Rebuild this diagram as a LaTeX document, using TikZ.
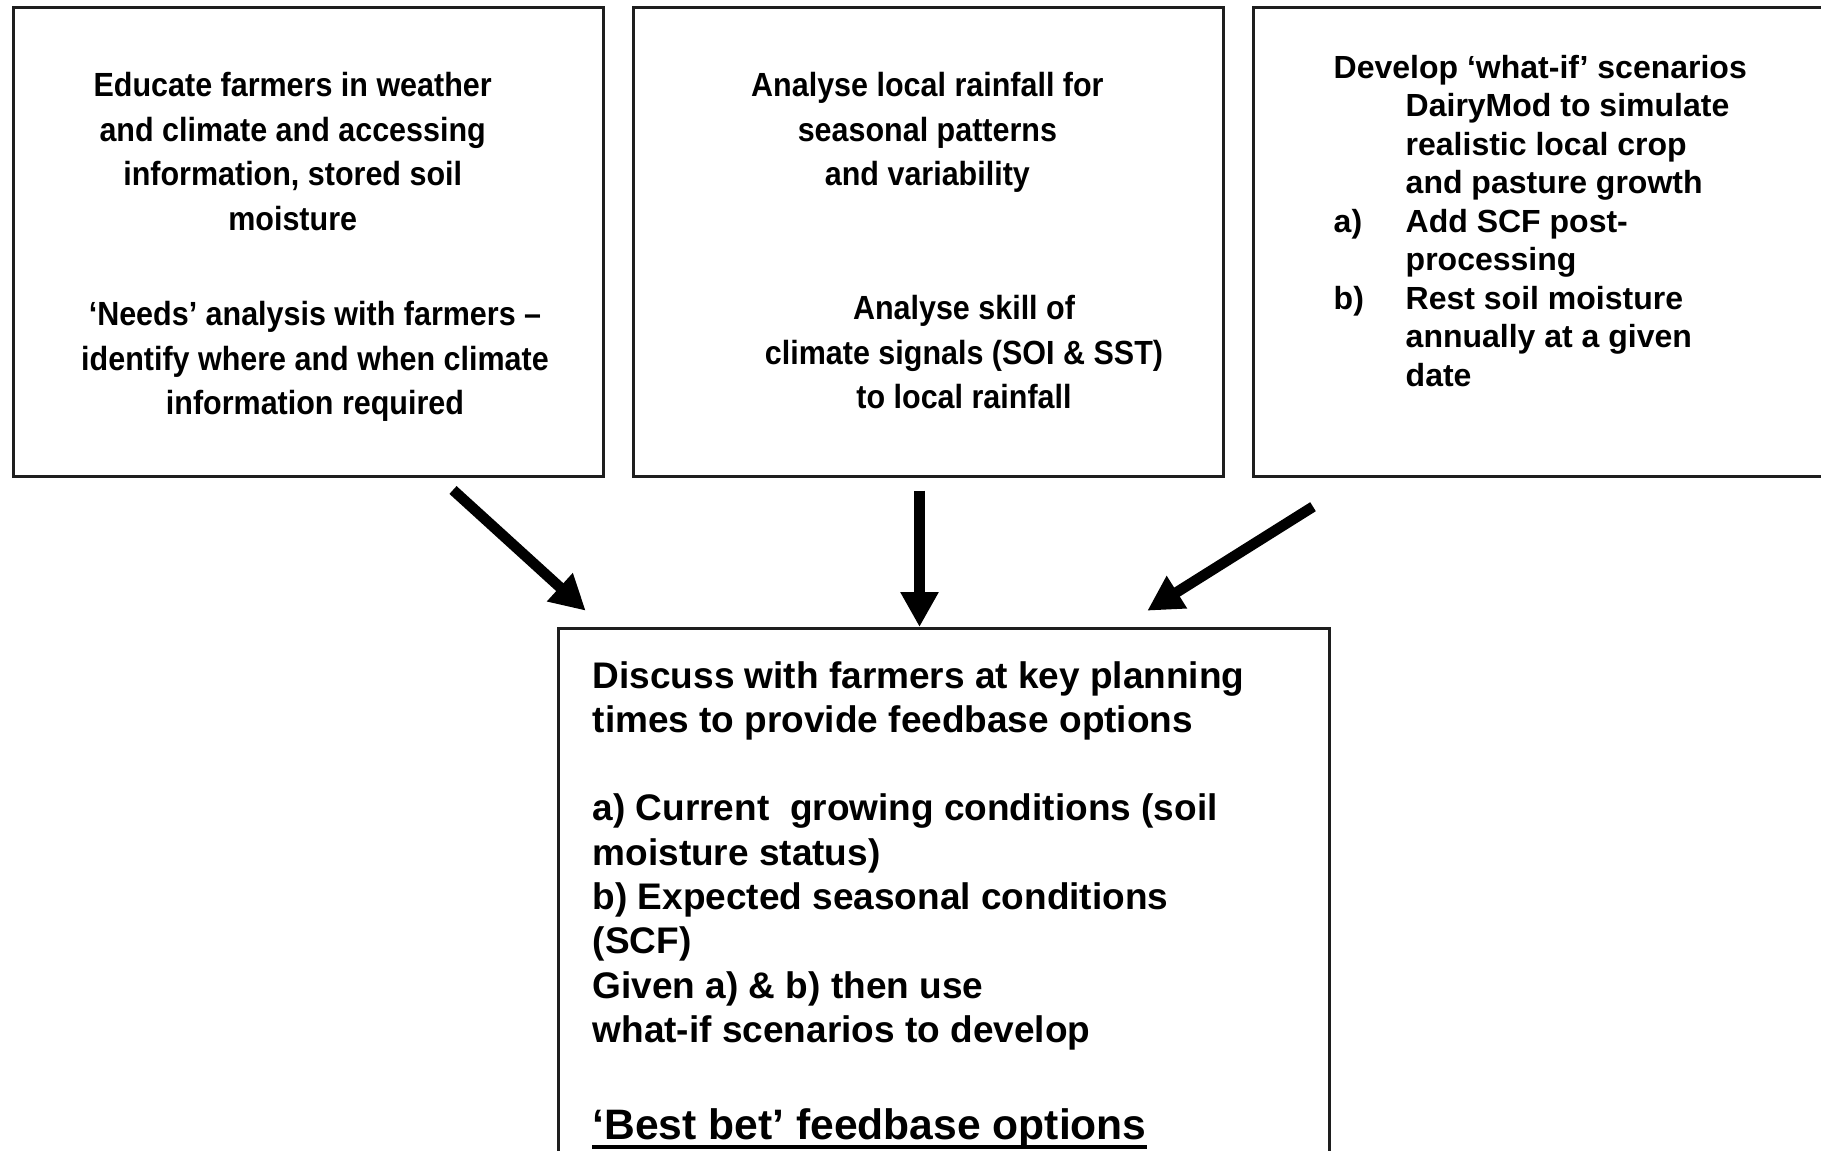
\documentclass[tikz,border=0pt]{standalone}
\usepackage{fontspec}
\setmainfont{Liberation Sans}
\newfontfamily\narrowfont[FakeStretch=0.91]{Liberation Sans}
\usetikzlibrary{arrows.meta, positioning, calc}
\definecolor{framecolor}{RGB}{30,30,30}

\begin{document}
\begin{tikzpicture}[
    x=0.5pt, y=-0.5pt,
    panel/.style={rectangle, draw=framecolor, line width=1.25pt, anchor=north west, minimum width=295pt, minimum height=234.5pt},
    topnote/.style={inner sep=0pt, align=center, anchor=base, font=\narrowfont\bfseries\fontsize{16.75}{22.25}\selectfont},
    scenario/.style={inner sep=0pt, align=left, anchor=base west, font=\bfseries\fontsize{16}{19.25}\selectfont},
    discussion/.style={inner sep=0pt, align=left, anchor=base west, font=\bfseries\fontsize{18.5}{22.15}\selectfont},
    flow/.style={-{Triangle[length=17.5pt, width=18pt]}, line width=5.3pt}
]
    \path[use as bounding box, fill=white] (0,0) rectangle (1821,1151);
    \clip (0,0) rectangle (1821,1151);

    % Top row of boxes
    \node[panel] (educate) at (12,6) {};
    \node[panel] (rainfall) at (632,6) {};
    \node[panel, minimum width=289pt] (whatif) at (1252,6) {};

    % Education and needs analysis (placed at the last baseline)
    \node[topnote] (educatetxt) at (292.7,230.3) {Educate farmers in weather\\and climate and accessing\\information, stored soil\\moisture};
    \node[topnote] (needstxt) at (315,414.6) {‘Needs’ analysis with farmers –\\identify where and when climate\\information required};

    % Rainfall analysis
    \node[topnote] (rainfalltxt) at (927.4,185.8) {Analyse local rainfall for\\seasonal patterns\\and variability};
    \node[topnote] (skilltxt) at (964,408.8) {Analyse skill of\\climate signals (SOI \& SST)\\to local rainfall};

    % What-if scenarios
    \node[scenario] (whatiftxt) at (1333.3,386) {Develop ‘what-if’ scenarios\\
        \hspace*{36pt}DairyMod to simulate\\
        \hspace*{36pt}realistic local crop\\
        \hspace*{36pt}and pasture growth\\
        \makebox[36pt][l]{a)}Add SCF post-\\
        \hspace*{36pt}processing\\
        \makebox[36pt][l]{b)}Rest soil moisture\\
        \hspace*{36pt}annually at a given\\
        \hspace*{36pt}date};

    % Discussion box
    \node[panel, minimum width=385.5pt, minimum height=272pt] (discuss) at (557,627) {};
    \node[discussion] (discusstxt) at (592.3,1042.4) {Discuss with farmers at key planning\\
        times to provide feedbase options\\[22.15pt]
        a) Current\ \ growing conditions (soil\\
        moisture status)\\
        b) Expected seasonal conditions\\
        (SCF)\\
        Given a) \& b) then use\\
        what-if scenarios to develop};
    \node[inner sep=0pt, anchor=base west, font=\bfseries\fontsize{21.3}{25}\selectfont] (bestbet) at (592.3,1139.5) {‘Best bet’ feedbase options};
    \draw[line width=1.75pt] ($(bestbet.base west)+(0,7.5)$) -- ($(bestbet.base east)+(0,7.5)$);

    % Arrows
    \coordinate (fromeducate) at (453,490);
    \coordinate (toeducate) at (585.7,610.7);
    \coordinate (fromrainfall) at (919.5,490.7);
    \coordinate (fromwhatif) at (1313,506.7);
    \coordinate (towhatif) at (1147.3,610.7);
    \draw[flow] (fromeducate) -- (toeducate);
    \draw[flow] (fromrainfall) -- (fromrainfall |- discuss.north);
    \draw[flow] (fromwhatif) -- (towhatif);

\end{tikzpicture}
\end{document}
